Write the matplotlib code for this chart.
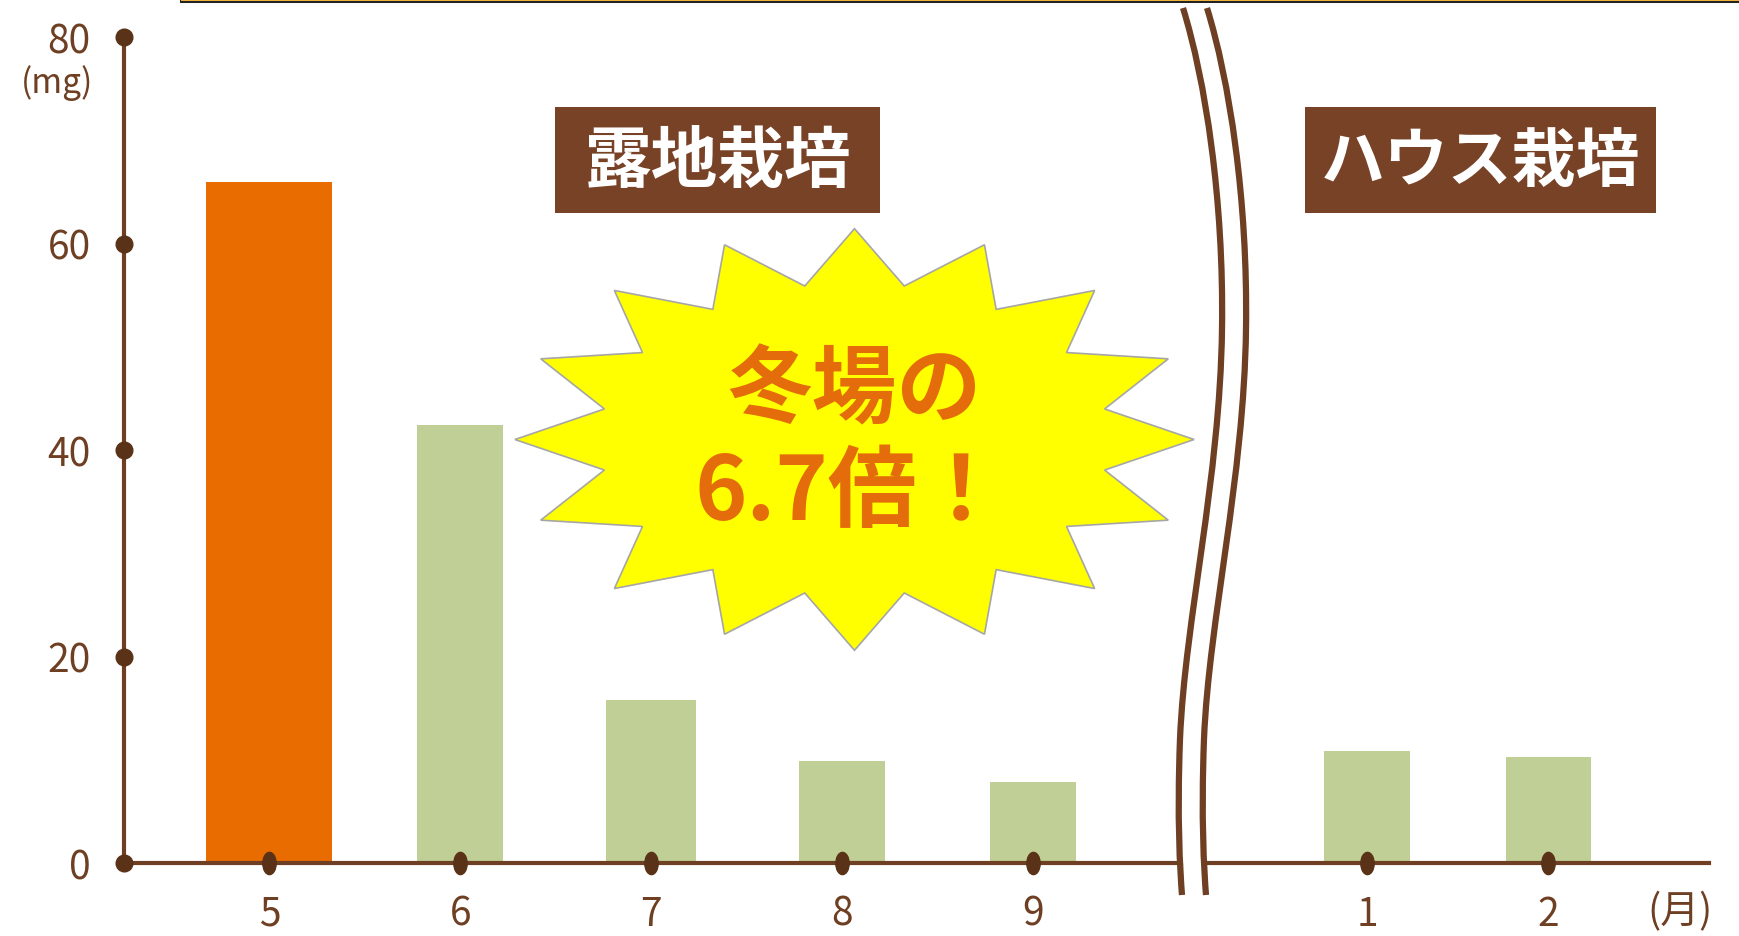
import numpy as np
import matplotlib
matplotlib.use("Agg")
import matplotlib.pyplot as plt
from matplotlib.patches import Polygon, Rectangle, PathPatch
from matplotlib.path import Path
from matplotlib.transforms import Affine2D

plt.rcParams.update({
    "font.family": ["Liberation Sans Narrow", "Noto Sans CJK JP", "DejaVu Sans"],
})
JP = ["Noto Sans CJK JP", "DejaVu Sans"]
BROWN, DOT, BOX = "#6E3F22", "#5A3218", "#784226"
ORANGE, GREEN, STAR_TXT = "#E96C00", "#BFCF95", "#E46C0A"

# data (mg, per month)
months = ["5", "6", "7", "8", "9", "1", "2"]
values = [66.0, 42.4, 15.8, 9.9, 7.8, 10.8, 10.3]
yticks = [0, 20, 40, 60, 80]

# layout: left group at 0..4, winter group after the break
xpos = list(range(5)) + [5.75, 6.7]
widths = [0.66, 0.45, 0.47, 0.45, 0.45, 0.45, 0.45]
colors = [ORANGE] + [GREEN] * 6

W, H = 1740, 937
fig = plt.figure(figsize=(W / 100, H / 100), dpi=100)
ax = fig.add_axes([124 / W, 73 / H, 1585 / W, 826 / H])
ax.bar(xpos, values, widths, color=colors, zorder=1)
ax.set_xlim(-0.762, 7.541); ax.set_ylim(0, 80)
for s in ("top", "right"):
    ax.spines[s].set_visible(False)
for s in ("left", "bottom"):
    ax.spines[s].set_color(BROWN); ax.spines[s].set_linewidth(3)
ax.set_xticks(xpos, months)
ax.set_yticks(yticks, [str(v) for v in yticks])
ax.tick_params(length=0, labelsize=28, labelcolor=BROWN)
ax.tick_params(axis="x", pad=22)
ax.tick_params(axis="y", pad=24)
ax.patch.set_alpha(0)

ell = Path.unit_circle().transformed(Affine2D().scale(0.6, 1))
ax.plot(xpos, [0] * len(xpos), ls="none", marker=ell, ms=16, color=DOT,
        clip_on=False, zorder=3)
ax.plot([-0.762] * len(yticks), yticks, ls="none", marker="o", ms=12,
        color=DOT, clip_on=False, zorder=3)

# overlay in pixel coords for decorations
ov = fig.add_axes([0, 0, 1, 1], zorder=5)
ov.set_xlim(0, W); ov.set_ylim(H, 0); ov.axis("off")

# top border fragment
ov.plot([180, W], [1.8, 1.8], color="#222222", lw=2.9, solid_capstyle="butt")
ov.plot([181, W], [1.0, 1.0], color="#F2B53C", lw=1.4, solid_capstyle="butt")

# axis break (double wavy line)
def wave(dx):
    verts = [(1183 + dx, 9), (1205 + dx, 80), (1224 + dx, 200), (1222 + dx, 330),
             (1220 + dx, 480), (1185 + dx, 620), (1180 + dx, 740),
             (1177 + dx, 820), (1180 + dx, 870), (1182 + dx, 896)]
    codes = [Path.MOVETO] + [Path.CURVE4] * 9
    return Path(verts, codes)

ov.add_patch(PathPatch(wave(12), fc="none", ec="white", lw=13, capstyle="butt"))
for dx in (0, 24):
    ov.add_patch(PathPatch(wave(dx), fc="none", ec=BROWN, lw=4.5, capstyle="butt"))

# label boxes
for (x0, x1, txt, fs) in [(555, 880, "露地栽培", 48), (1305, 1656, "ハウス栽培", 46)]:
    ov.add_patch(Rectangle((x0, 108), x1 - x0, 106, fc=BOX, ec="none"))
    ov.text((x0 + x1) / 2, 162, txt, ha="center", va="center", color="white",
            fontsize=fs, fontweight="bold", family=JP)

# starburst
cx, cy = 854.5, 440.5
n = 16
ang = np.pi / 2 - np.arange(2 * n) * np.pi / n
rx = np.where(np.arange(2 * n) % 2 == 0, 339.6, 255.0)
ry = np.where(np.arange(2 * n) % 2 == 0, 210.8, 156.5)
pts = np.column_stack([cx + rx * np.cos(ang), cy - ry * np.sin(ang)])
ov.add_patch(Polygon(pts, closed=True, fc="#FFFF00", ec="#A6A6A6", lw=1.2))
ov.text(cx, 391, "冬場の", ha="center", va="center", color=STAR_TXT,
        fontsize=61, fontweight="bold", family=JP)
ov.text(cx - 4, 494, "6.7倍！", ha="center", va="center", color=STAR_TXT,
        fontsize=64, fontweight="bold", family=JP)

# unit labels
ov.text(57, 83, "(mg)", ha="center", va="center", color=BROWN, fontsize=24)
ov.text(1680, 912, "(月)", ha="center", va="center", color=BROWN, fontsize=28,
        family=JP)

fig.savefig("out.png", dpi=100, facecolor="white")
